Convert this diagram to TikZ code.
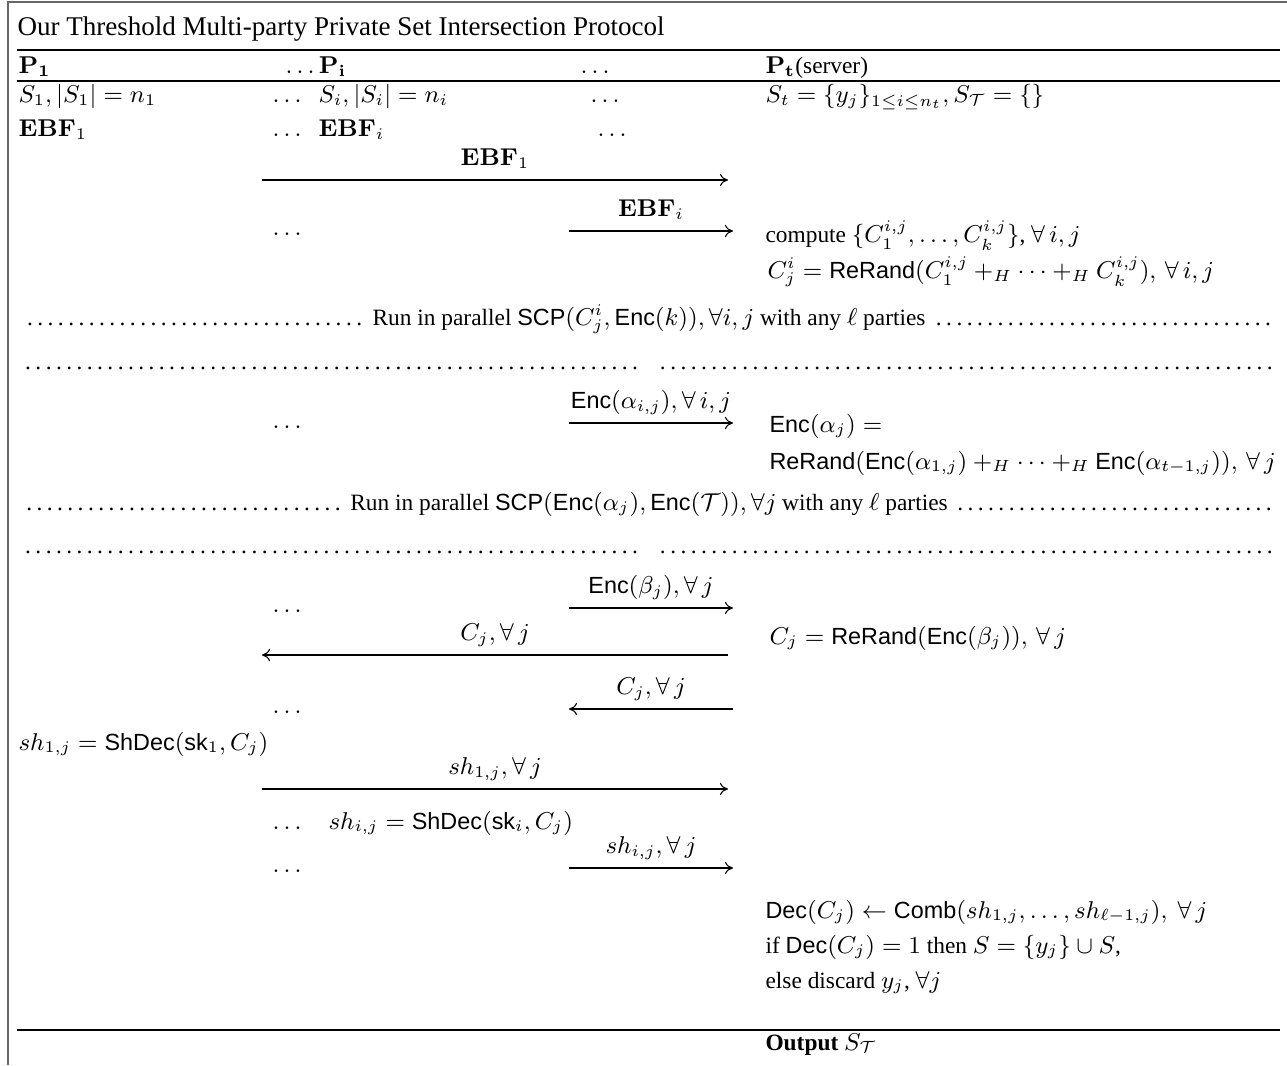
\documentclass[tikz,border=0pt]{standalone}
\usepackage[no-math]{fontspec}
\setmainfont{Liberation Serif}
\setsansfont{Liberation Sans}
\usetikzlibrary{arrows.meta}
\newcommand{\fnc}[1]{\textsf{#1}}
\begin{document}
\begin{tikzpicture}[x=0.37pt,y=-0.37pt,
  every node/.style={font=\fontsize{8.65}{10.4}\selectfont},
  tx/.style={anchor=base west,inner sep=0pt},
  frameline/.style={draw=black!60,line width=0.75pt},
  rule/.style={draw=black,line width=0.5pt},
  msg/.style={-{Computer Modern Rightarrow[length=3pt,width=4.6pt]},line width=0.4pt},
  lbl/.style={midway,anchor=base,inner sep=0pt,yshift=5.3pt},
  dotrow/.style={anchor=base west,inner sep=0pt,align=justify}]
\useasboundingbox (0,0) rectangle (1287,1065);
% frame
\coordinate (fA) at (8,1065); \coordinate (fB) at (8,2); \coordinate (fC) at (1287,2);
\draw[frameline] (fA) -- (fB) -- (fC);
\coordinate (r1a) at (17,50); \coordinate (r1b) at (1280,50);
\coordinate (r2a) at (17,81); \coordinate (r2b) at (1280,81);
\coordinate (r3a) at (17,1030); \coordinate (r3b) at (1280,1030);
\draw[rule] (r1a) -- (r1b);
\draw[rule] (r2a) -- (r2b);
\draw[rule] (r3a) -- (r3b);
% title
\node[tx,font=\fontsize{10}{12}\selectfont] (title) at (17,36) {Our Threshold Multi-party Private Set Intersection Protocol};
% header
\node[tx] (h1) at (18,74) {$\mathbf{P_1}$};
\node[tx] (h2) at (285,74) {$\ldots\mathbf{P_i}$};
\node[tx] (h3) at (580,74) {$\ldots$};
\node[tx] (h4) at (765,74) {$\mathbf{P_t}$(server)};
% sets
\node[tx] (s1) at (18,103) {$S_1,|S_1|=n_1$};
\node[tx] (s2d) at (272,103) {$\ldots$};
\node[tx] (s2) at (318,103) {$S_i,|S_i|=n_i$};
\node[tx] (s3) at (590,103) {$\ldots$};
\node[tx] (s4) at (765,103) {$S_t=\{y_j\}_{1\le i\le n_t},S_{\mathcal{T}}=\{\}$};
% EBF
\node[tx] (e1) at (18,137) {$\mathbf{EBF}_1$};
\node[tx] (e2d) at (272,137) {$\ldots$};
\node[tx] (e2) at (318,137) {$\mathbf{EBF}_i$};
\node[tx] (e3) at (597,137) {$\ldots$};
% arrow EBF1
\coordinate (a1s) at (262,180); \coordinate (a1e) at (728,180);
\draw[msg] (a1s) -- (a1e) node[lbl] (l1) {$\mathbf{EBF}_1$};
% arrow EBFi
\coordinate (a2s) at (569,231); \coordinate (a2e) at (733,231);
\draw[msg] (a2s) -- (a2e) node[lbl] (l2) {$\mathbf{EBF}_i$};
\node[tx] (d2) at (272,236) {$\ldots$};
\node[tx] (c1) at (765,243) {compute $\{C_1^{i,j},\ldots,C_k^{i,j}\}$, $\forall\,i,j$};
\node[tx] (c2) at (767,279) {$C^i_j=\fnc{ReRand}(C_1^{i,j}+_H\cdots+_H C_k^{i,j}),\,\forall\,i,j$};
% SCP 1
\node[dotrow,text width=463.6pt] (scp1) at (22,326) {\dotfill\ Run in parallel $\fnc{SCP}(C^i_j,\fnc{Enc}(k)),\forall i,j$ with any $\ell$ parties\ \dotfill};
\node[dotrow,text width=228.7pt] (dr1a) at (22,369) {\dotfill};
\node[dotrow,text width=228.5pt] (dr1b) at (657,369) {\dotfill};
% Enc alpha
\coordinate (a3s) at (569,423); \coordinate (a3e) at (733,423);
\draw[msg] (a3s) -- (a3e) node[lbl] (l3) {$\fnc{Enc}(\alpha_{i,j}),\forall\,i,j$};
\node[tx] (d3) at (272,428) {$\ldots$};
\node[tx] (c3) at (769,432) {$\fnc{Enc}(\alpha_j)=$};
\node[tx] (c4) at (769,469) {$\fnc{ReRand}(\fnc{Enc}(\alpha_{1,j})+_H\cdots+_H\fnc{Enc}(\alpha_{t-1,j})),\,\forall\,j$};
% SCP 2
\node[dotrow,text width=463.6pt] (scp2) at (22,510) {\dotfill\ Run in parallel $\fnc{SCP}(\fnc{Enc}(\alpha_j),\fnc{Enc}(\mathcal{T})),\forall j$ with any $\ell$ parties\ \dotfill};
\node[dotrow,text width=228.7pt] (dr2a) at (22,553) {\dotfill};
\node[dotrow,text width=228.5pt] (dr2b) at (657,553) {\dotfill};
% Enc beta
\coordinate (a4s) at (569,608); \coordinate (a4e) at (733,608);
\draw[msg] (a4s) -- (a4e) node[lbl] (l4) {$\fnc{Enc}(\beta_j),\forall\,j$};
\node[tx] (d4) at (272,612) {$\ldots$};
\coordinate (a5s) at (728,655); \coordinate (a5e) at (262,655);
\draw[msg] (a5s) -- (a5e) node[lbl] (l5) {$C_j,\forall\,j$};
\node[tx] (c5) at (769,644) {$C_j=\fnc{ReRand}(\fnc{Enc}(\beta_j)),\,\forall\,j$};
\coordinate (a6s) at (733,709); \coordinate (a6e) at (569,709);
\draw[msg] (a6s) -- (a6e) node[lbl] (l6) {$C_j,\forall\,j$};
\node[tx] (d6) at (272,713) {$\ldots$};
% shares
\node[tx] (sh1) at (18,750) {$sh_{1,j}=\fnc{ShDec}(\fnc{sk}_1,C_j)$};
\coordinate (a7s) at (262,789); \coordinate (a7e) at (728,789);
\draw[msg] (a7s) -- (a7e) node[lbl] (l7) {$sh_{1,j},\forall\,j$};
\node[tx] (d7) at (272,829) {$\ldots$};
\node[tx] (sh2) at (328,829) {$sh_{i,j}=\fnc{ShDec}(\fnc{sk}_i,C_j)$};
\coordinate (a8s) at (569,868); \coordinate (a8e) at (733,868);
\draw[msg] (a8s) -- (a8e) node[lbl] (l8) {$sh_{i,j},\forall\,j$};
\node[tx] (d8) at (272,872) {$\ldots$};
% final
\node[tx] (f1) at (765,918) {$\fnc{Dec}(C_j)\leftarrow\fnc{Comb}(sh_{1,j},\ldots,sh_{\ell-1,j}),~\forall\,j$};
\node[tx] (f2) at (765,953) {if $\fnc{Dec}(C_j)=1$ then $S=\{y_j\}\cup S$,};
\node[tx] (f3) at (765,988) {else discard $y_j$,~$\forall j$};
\node[tx] (out) at (765,1050) {\textbf{Output} $S_{\mathcal{T}}$};
\end{tikzpicture}
\end{document}
